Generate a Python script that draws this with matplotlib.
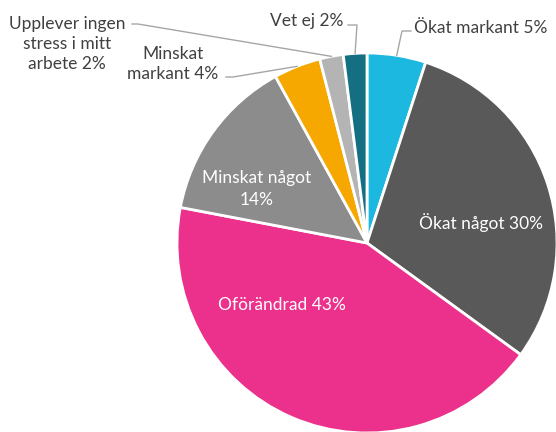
import numpy as np
import matplotlib
matplotlib.use('Agg')
import matplotlib.pyplot as plt

plt.rcParams['font.family'] = ['Lato', 'DejaVu Sans']

labels = ['Ökat markant', 'Ökat något', 'Oförändrad', 'Minskat något',
          'Minskat markant', 'Upplever ingen stress i mitt arbete', 'Vet ej']
values = [5, 30, 43, 14, 4, 2, 2]
colors = ['#1db8df', '#595959', '#eb318b', '#8c8c8c', '#f7a800', '#b4b4b4', '#156f82']

# px -> data (pie centre at 367,243, radius 190 px)
def px(x, y):
    return (x - 367) / 190.0, (243 - y) / 190.0

fig = plt.figure(figsize=(5.56, 4.32), dpi=100)
ax = fig.add_axes([0, 0, 1, 1])
wedges, _ = ax.pie(values, colors=colors, startangle=90, counterclock=False,
                   wedgeprops=dict(edgecolor='white', linewidth=2))
ax.set_xlim(px(0, 0)[0], px(556, 0)[0])
ax.set_ylim(px(0, 432)[1], px(0, 0)[1])
ax.set_aspect('auto')
ax.axis('off')

txt = '#404040'
line_col = '#a6a6a6'
fs = 12.5

# labels inside slices
inside = {1: ('Ökat något 30%', (481, 223)),
          2: ('Oförändrad 43%', (282, 305)),
          3: ('Minskat något\n14%', (257, 189))}
for i, (s, p) in inside.items():
    ax.text(*px(*p), s, color='white', fontsize=fs, ha='center', va='center',
            linespacing=1.45)

# labels outside with leader lines: (text, text pos, ha, elbow, end)
outside = {0: ('Ökat markant 5%', (414, 28), 'left', (402, 31), (411, 31)),
           6: ('Vet ej 2%', (343, 21), 'right', (357, 25), (348, 25)),
           5: ('Upplever ingen\nstress i mitt\narbete 2%', (67, 44), 'center', (138, 24), (132, 24)),
           4: ('Minskat\nmarkant 4%', (173, 64), 'center', (233, 77), (226, 77))}
for i, (s, p, ha, elbow, end) in outside.items():
    w = wedges[i]
    ang = np.deg2rad((w.theta1 + w.theta2) / 2)
    ax0, ay0 = np.cos(ang), np.sin(ang)
    ex, ey = px(*elbow)
    nx, ny = px(*end)
    ax.plot([ax0, ex, nx], [ay0, ey, ny], color=line_col, lw=1)
    ax.text(*px(*p), s, color=txt, fontsize=fs, ha=ha, va='center',
            linespacing=1.33)

fig.savefig('out.png', dpi=100)
